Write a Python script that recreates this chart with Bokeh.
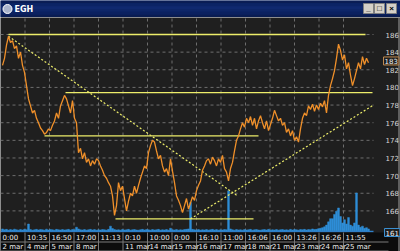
from bokeh.plotting import figure
from bokeh.models import Range1d, Label
from bokeh.layouts import column
from bokeh.core.properties import value
from bokeh.embed import file_html
from bokeh.resources import INLINE

# ---------------- data ----------------
price = [182.5, 183.3, 184.8, 185.8, 185.1, 185.3, 184.4, 184.7, 183.3, 184.0,
         182.5, 181.7, 180.2, 178.7, 177.9, 177.1, 177.4, 176.5, 176.0, 175.4,
         175.1, 174.7, 174.9, 175.3, 175.1, 175.7, 176.2, 177.1, 176.5, 177.9,
         178.5, 179.1, 178.7, 177.9, 177.1, 178.5, 176.5, 176.0, 172.6, 173.1,
         171.9, 172.6, 171.5, 171.9, 171.1, 171.7, 171.3, 171.9, 171.7, 171.1,
         170.6, 170.0, 169.7, 169.2, 168.8, 167.7, 165.5, 166.6, 169.2, 168.3,
         168.8, 167.4, 166.0, 167.1, 168.0, 167.7, 168.8, 168.0, 168.9, 169.7,
         170.4, 171.1, 170.8, 172.6, 173.4, 174.0, 173.8, 172.8, 171.9, 172.3,
         171.1, 170.4, 170.8, 170.0, 171.9, 170.5, 169.2, 167.7, 167.2, 166.6,
         165.8, 166.6, 167.4, 166.2, 166.9, 167.6, 167.2, 168.3, 168.9, 169.4,
         170.6, 171.1, 171.7, 171.9, 171.3, 172.1, 171.7, 171.1, 171.9, 171.5,
         172.3, 170.8, 170.4, 169.4, 170.8, 171.5, 172.8, 174.0, 174.5, 175.3,
         176.0, 175.5, 176.5, 176.0, 176.7, 175.7, 176.5, 175.3, 176.2, 176.8,
         176.0, 175.3, 176.2, 175.1, 175.8, 176.5, 177.4, 176.8, 176.2, 176.5,
         175.7, 176.0, 174.9, 175.3, 174.5, 175.1, 174.0, 174.4, 173.8, 175.3,
         176.5, 177.1, 176.8, 177.9, 177.5, 178.1, 177.3, 178.0, 177.5, 178.2,
         177.8, 178.5, 177.1, 179.1, 180.2, 181.0, 181.9, 183.3, 184.9, 184.2,
         183.1, 183.7, 182.1, 182.8, 181.4, 180.2, 181.0, 181.9, 182.8, 182.1,
         183.5, 182.6, 183.3, 182.8]

volume = [1.2, 0.8, 1.0, 0.6, 0.9, 0.7, 1.1, 0.8, 0.6, 0.9,
          0.7, 1.0, 0.8, 3.5, 0.9, 0.6, 0.8, 1.0, 0.7, 0.9,
          0.8, 0.6, 1.1, 0.7, 0.9, 0.8, 0.6, 1.0, 0.8, 0.7,
          0.9, 0.7, 0.8, 1.0, 0.6, 0.9, 0.8, 2.0, 1.2, 0.8,
          0.7, 0.9, 0.6, 0.8, 1.0, 0.7, 0.9, 0.6, 0.8, 0.7,
          0.9, 0.8, 0.6, 1.0, 2.5, 1.4, 0.9, 0.7, 0.8, 0.6,
          0.9, 0.7, 0.8, 1.0, 0.6, 0.8, 0.9, 0.7, 0.6, 0.8,
          1.0, 0.7, 0.9, 0.8, 0.6, 0.9, 0.7, 0.8, 1.0, 0.6,
          0.8, 0.7, 0.9, 0.6, 1.5, 0.8, 0.7, 0.9, 0.6, 0.8,
          0.7, 0.9, 1.0, 1.2, 13.5, 1.0, 0.8, 0.7, 0.9, 0.6,
          0.8, 0.7, 0.9, 0.6, 0.8, 1.0, 0.7, 0.9, 0.6, 0.8,
          0.7, 0.9, 0.8, 19.0, 1.2, 0.8, 0.6, 0.9, 0.7, 0.8,
          0.6, 0.9, 0.7, 0.8, 1.0, 0.6, 0.8, 0.9, 0.7, 0.6,
          0.8, 0.9, 0.7, 1.0, 0.6, 0.8, 0.7, 0.9, 0.6, 0.8,
          0.9, 0.7, 0.8, 0.6, 1.0, 0.7, 0.9, 0.8, 0.6, 0.9,
          0.8, 1.0, 0.7, 0.9, 0.8, 1.2, 0.9, 1.0, 1.3, 1.5,
          1.8, 2.2, 3.0, 4.5, 6.0, 6.0, 8.0, 9.5, 11.0, 7.0,
          4.0, 5.5, 3.5, 6.5, 3.0, 2.5, 4.0, 18.0, 3.0, 2.0,
          2.5, 1.5, 1.8, 1.2]

# support / resistance lines: level, start index, end index
hline_level = [186.0, 179.4, 174.5, 165.1]
hline_start = [3, 31.5, 21, 56.5]
hline_end = [181.5, 185, 128, 125.5]

# trend lines (dotted): x0, y0, x1, y1
trend_x0 = [3, 94]
trend_y0 = [185.8, 165.1]
trend_x1 = [117.5, 185.5]
trend_y1 = [167.7, 178.0]

price_ticks = [166, 168, 170, 172, 174, 176, 178, 180, 182, 184, 186]
last_price = 183
last_price_text = "183"
bottom_box = "161"

time_labels = ["0:00", "10:35", "16:50", "17:00", "11:13", "0:10", "10:00", "0:00",
               "16:10", "11:00", "16:06", "16:00", "13:26", "16:26", "11:55"]
date_labels = ["2 mar", "4 mar", "5 mar", "8 mar", "", "11 mar", "14 mar", "15 mar",
               "16 mar", "17 mar", "18 mar", "21 mar", "23 mar", "24 mar", "25 mar"]

title_text = "EGH"

# ---------------- layout helpers (window pixel -> chart coordinates) ----------------
PX_PER_UNIT = 8.82


def wy(px):  # window y pixel -> price coordinate (window y 34 == 186)
    return 186 - (px - 34) / PX_PER_UNIT


def wx(px):  # window x pixel -> sample index coordinate (2 px per sample)
    return px / 2 - 1


BG = "#1f1f1f"
GRID = "#6e6e6e"
FONT = "DejaVu Sans"
n = len(price)
idx = list(range(n))
slot_px = [24.5 * k for k in range(len(time_labels))]
slot_pos = [wx(s) for s in slot_px]

# ---------------- title bar ----------------
tb = figure(width=400, height=17, x_range=Range1d(0, 400), y_range=Range1d(0, 17),
            toolbar_location=None, output_backend="svg",
            min_border=0, min_border_left=0, min_border_right=0,
            min_border_top=0, min_border_bottom=0,
            x_axis_location=None, y_axis_location=None,
            background_fill_color="#0c2466", border_fill_color="#0c2466",
            outline_line_color=None)
tb.grid.visible = False
bands = ["#0a1d55", "#0c2465", "#10296f", "#0e2668", "#0b2160", "#091c52"]
for k, c in enumerate(bands):
    tb.quad(left=0, right=400, bottom=17 - (k + 1) * 17 / len(bands), top=17 - k * 17 / len(bands),
            fill_color=c, line_color=None)
tb.scatter([7], [8.5], size=9, fill_color="#aab4cc", line_color="#ffffff", line_width=1)
tb.text([14], [8.5], text=[title_text], text_color="white", text_font_size="8px",
        text_font_style="bold", text_baseline="middle", text_font=value(FONT))
btn_l = [363, 374, 386]
btn_t = ["_", "\u25a1", "\u00d7"]
tb.quad(left=btn_l, right=[b + 10 for b in btn_l], bottom=4, top=14,
        fill_color="#d4d0c8", line_color="#808080")
tb.text([b + 5 for b in btn_l], [9, 9, 9], text=btn_t, text_color="black",
        text_font_size="8px", text_font_style="bold", text_align="center",
        text_baseline="middle")

# ---------------- main chart (frame covers the whole 400x234 area) ----------------
p = figure(width=400, height=234, x_range=Range1d(wx(0), wx(400)), y_range=Range1d(wy(251), wy(17)),
           toolbar_location=None, output_backend="svg",
           min_border=0, min_border_left=0, min_border_right=0, min_border_top=0, min_border_bottom=0,
           x_axis_location=None, y_axis_location=None,
           background_fill_color=BG, border_fill_color=BG,
           outline_line_color=None)
for g in p.grid:
    g.visible = False

# dashed grid
p.segment(x0=wx(0), x1=wx(373), y0=price_ticks, y1=price_ticks,
          line_color=GRID, line_dash="3 3", line_width=1)
p.segment(x0=slot_pos[1:], x1=slot_pos[1:], y0=wy(231), y1=wy(17),
          line_color=GRID, line_dash="3 3", line_width=1)

# right price scale
p.text(x=[wx(385)] * len(price_ticks), y=price_ticks, text=[str(t) for t in price_ticks],
       text_font_size="7px", text_color="#d8d8d8", text_baseline="middle",
       text_font=value(FONT))

# volume (0 sits at the bottom of the price area)
vol_scale = PX_PER_UNIT / 2.14
p.extra_y_ranges = {"vol": Range1d((wy(251) - wy(231)) * vol_scale, (wy(17) - wy(231)) * vol_scale)}
p.vbar(x=idx, top=volume, bottom=0, width=0.9, y_range_name="vol",
       fill_color="#2f8fd8", line_color="#2f8fd8", line_width=0.5)
p.segment(x0=wx(0), x1=wx(373), y0=0, y1=0, y_range_name="vol",
          line_color="#2f7fc8", line_width=1.5)

# bottom time / date rows
p.quad(left=wx(0), right=wx(400), bottom=wy(251), top=wy(232), fill_color="#0c0c0c", line_color=None)
p.segment(x0=wx(0), x1=wx(388), y0=wy(241.5), y1=wy(241.5), line_color="#7a7a7a", line_width=1)
p.segment(x0=wx(0), x1=wx(388), y0=wy(250.5), y1=wy(250.5), line_color="#7a7a7a", line_width=1)
p.segment(x0=slot_pos[1:], x1=slot_pos[1:], y0=wy(251), y1=wy(232),
          line_color="#7a7a7a", line_width=1)
p.text(x=[s + 1 for s in slot_pos], y=[wy(237)] * len(time_labels), text=time_labels,
       text_font_size="7px", text_color="#ececec", text_baseline="middle", text_font=value(FONT))
p.text(x=[s + 1 for s in slot_pos], y=[wy(246.5)] * len(date_labels), text=date_labels,
       text_font_size="7px", text_color="#ececec", text_baseline="middle", text_font=value(FONT))

# support / resistance
p.segment(x0=hline_start, y0=hline_level, x1=hline_end, y1=hline_level,
          line_color="#eded6a", line_width=1.3)
p.segment(x0=trend_x0, y0=trend_y0, x1=trend_x1, y1=trend_y1,
          line_color="#eded6a", line_width=1.2, line_dash="2 2")

# price
p.line(idx, price, line_color="#f0902a", line_width=1.3)

# right window border
p.segment(x0=wx(398.5), x1=wx(398.5), y0=wy(251), y1=wy(17), line_color="#a0a0a0", line_width=1)

# last price / bottom value boxes
p.add_layout(Label(x=wx(383), y=last_price, text=last_price_text, text_font_size="7px",
                   text_color="#f0f0f0", text_baseline="middle", border_line_color="#c08a50",
                   background_fill_color=BG, padding=1, text_font=FONT))
p.add_layout(Label(x=wx(384), y=wy(232), text=bottom_box, text_font_size="7px",
                   text_color="#f0f0f0", text_baseline="middle", border_line_color="#3a8fd0",
                   background_fill_color=BG, padding=1, text_font=FONT))

layout = column(tb, p, spacing=0)
open("out.html", "w").write(file_html(layout, INLINE))
